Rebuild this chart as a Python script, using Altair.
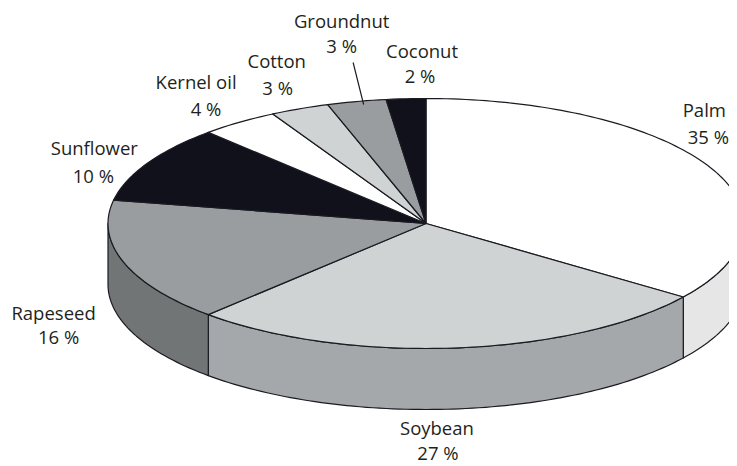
import math
import altair as alt
import pandas as pd

names = ["Palm", "Soybean", "Rapeseed", "Sunflower", "Kernel oil", "Cotton", "Groundnut", "Coconut"]
shares = [35, 27, 16, 10, 4, 3, 3, 2]
top_colors = ["#ffffff", "#cfd3d4", "#9a9d9f", "#10111a", "#ffffff", "#cfd3d4", "#9a9d9f", "#10111a"]
side_colors = ["#e6e6e6", "#a5a8aa", "#717576"]
# pixel offsets of each label line from the rim point at the slice's middle
name_offsets = [(-5, -56), (-19, 81), (-70, 52), (-53, -14), (-43, -39), (-23, -47), (-15, -80), (16, -47)]
pct_offsets = [(-1, -29), (-18, 106), (-65, 76), (-54, 14), (-33, -12), (-22, -20), (-15, -55), (14, -22)]

CX, CY, RX, RY, DEPTH = 426, 223.5, 318, 125, 61
W, H = 721, 458
INK = "#1a1a22"
TEXT = "#231f20"

def rim(pct, drop=0):
    a = 2 * math.pi * pct / 100
    return CX + RX * math.sin(a), CY - RY * math.cos(a) + drop

def steps(a, b):
    n = max(2, int((b - a) * 3))
    return [a + (b - a) * i / n for i in range(n + 1)]

x_enc = alt.X("x:Q", scale=alt.Scale(domain=[8, 8 + W], range=[0, W], nice=False, zero=False), axis=None)
y_enc = alt.Y("y:Q", scale=alt.Scale(domain=[8, 8 + H], range=[0, H], nice=False, zero=False), axis=None)

def polygon(points, fill):
    df = pd.DataFrame({"x": [p[0] for p in points], "y": [p[1] for p in points], "i": range(len(points))})
    return alt.Chart(df).mark_line(fill=fill, stroke=INK, strokeWidth=1.2, clip=True, strokeJoin="round").encode(
        x=x_enc, y=y_enc, order="i:Q")

layers = []
edges = [0]
for s in shares:
    edges.append(edges[-1] + s)

# side wall: visible front half of the rim, from 25 % to 75 % of the way round
for k in range(3):
    arc = steps(max(edges[k], 25), min(edges[k + 1], 75))
    pts = [rim(p) for p in arc] + [rim(p, DEPTH) for p in reversed(arc)]
    pts.append(pts[0])
    layers.append(polygon(pts, side_colors[k]))

# top face
for k in range(len(shares)):
    arc = steps(edges[k], edges[k + 1])
    pts = [(CX, CY)] + [rim(p) for p in arc] + [(CX, CY)]
    layers.append(polygon(pts, top_colors[k]))

# leader line of the Groundnut label
gx, gy = rim((edges[6] + edges[7]) / 2)
leader = pd.DataFrame({"x": [gx - 3.5, gx + 7], "y": [gy - 39, gy + 3], "i": [0, 1]})
layers.append(alt.Chart(leader).mark_line(stroke=INK, strokeWidth=1.2).encode(x=x_enc, y=y_enc, order="i:Q"))

# labels
for k, name in enumerate(names):
    x, y = rim((edges[k] + edges[k + 1]) / 2)
    df = pd.DataFrame({"x": [x], "y": [y], "t": [name], "p": [f"{shares[k]} %"]})
    base = alt.Chart(df)
    for field, (ox, oy) in (("t", name_offsets[k]), ("p", pct_offsets[k])):
        layers.append(base.mark_text(font="Open Sans", fontSize=18.5, color=TEXT, dx=ox, dy=oy,
                                     align="center", baseline="middle").encode(x=x_enc, y=y_enc, text=f"{field}:N"))

chart = alt.layer(*layers).properties(width=W, height=H, padding=0, background="#ffffff").configure_view(stroke=None)
chart.save("out.html", embed_options={"renderer": "svg", "actions": False})
